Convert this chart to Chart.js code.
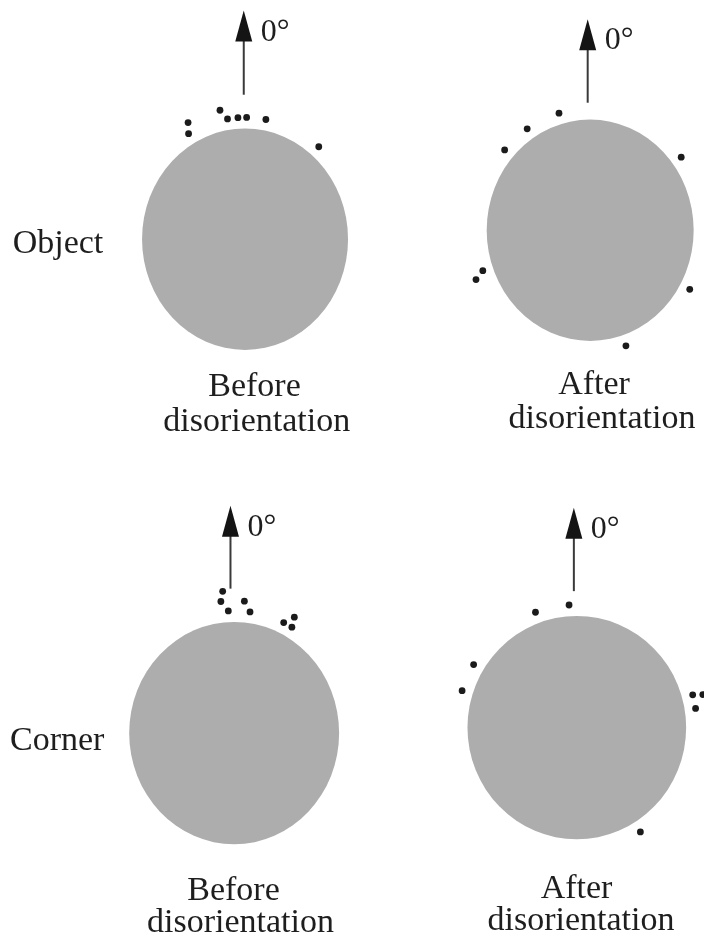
<!DOCTYPE html>
<html>
<head>
<meta charset="utf-8">
<script src="https://cdn.jsdelivr.net/npm/chart.js@4.4.1/dist/chart.umd.min.js"></script>
<style>
  html, body { margin: 0; padding: 0; background: #ffffff; }
  #wrap { position: relative; width: 704px; height: 940px; overflow: hidden; }
  #c { position: absolute; left: 0; top: 0; }
  .t { position: absolute; white-space: nowrap; color: #1e1e1e;
       font-family: "Liberation Serif", "Times New Roman", "DejaVu Serif", serif; }
</style>
</head>
<body>
<div id="wrap"><canvas id="c" width="704" height="940"></canvas></div>
<script>
// ---- data: heading angles (degrees, clockwise from 0° = up) ----
const objectBefore = [330.1, 332.3, 351.1, 348.2, 356.4, 0.8, 10.6, 40.6];
const objectAfter  = [344.1, 326.4, 311.3, 53.1, 250.6, 248.0, 119.0, 161.7];
const cornerBefore = [357.1, 353.9, 355.1, 7.9, 4.7, 25.4, 28.8, 30.0];
const cornerAfter  = [356.3, 339.9, 300.9, 287.5, 74.5, 75.6, 81.0, 148.1];
const rowLabels = ['Object', 'Corner'];
const beforeCaption = ['Before', 'disorientation'];
const afterCaption = ['After', 'disorientation'];
const directionLabel = '0\u00B0';

// ---- layout (page pixels for circle placement; arrow in circle units) ----
const W = 704, H = 940;
const panels = [
  { data: objectBefore, cx: 244,   cy: 237.5, rx: 104,   ry: 111.5,
    arrow: { x: -0.0125, top: 2.067, bottom: 1.305 },
    caption: beforeCaption, cap: [{ x: 254.5, b: 396.7 }, { x: 256.7, b: 431 }] },
  { data: objectAfter,  cx: 592.5, cy: 228.5, rx: 104.5, ry: 111.5,
    arrow: { x: -0.024, top: 1.906, bottom: 1.152 },
    caption: afterCaption, cap: [{ x: 594, b: 394 }, { x: 602, b: 428.3 }] },
  { data: cornerBefore, cx: 233,   cy: 735,   rx: 106,   ry: 112,
    arrow: { x: -0.035, top: 2.045, bottom: 1.299 },
    caption: beforeCaption, cap: [{ x: 233.5, b: 900 }, { x: 240.5, b: 932 }] },
  { data: cornerAfter,  cx: 579,   cy: 729.5, rx: 110.4, ry: 112.5,
    arrow: { x: -0.027, top: 1.969, bottom: 1.222 },
    caption: afterCaption, cap: [{ x: 576.5, b: 898 }, { x: 581, b: 930 }] }
];
const rowLabelPos = [{ x: 12.7, b: 253.3 }, { x: 10, b: 750.7 }];

const BASE_R = 1.1, STEP_R = 0.09, STACK_DEG = 4;

function angDiff(a, b) { let d = Math.abs(a - b) % 360; return d > 180 ? 360 - d : d; }
function stackLevels(angles) {
  const levels = [];
  return angles.map(a => {
    let L = 0;
    while (levels[L] && levels[L].some(b => angDiff(a, b) < STACK_DEG)) L++;
    (levels[L] = levels[L] || []).push(a);
    return L;
  });
}
function toPoints(angles) {
  const lv = stackLevels(angles);
  return angles.map((a, i) => {
    const r = BASE_R + STEP_R * lv[i];
    const t = a * Math.PI / 180;
    return { x: r * Math.sin(t), y: r * Math.cos(t) };
  });
}

const scales = {};
const datasets = panels.map((p, i) => {
  scales['x' + i] = { type: 'linear', axis: 'x', position: 'bottom', display: false,
    min: (0 - p.cx) / p.rx, max: (W - p.cx) / p.rx };
  scales['y' + i] = { type: 'linear', axis: 'y', position: 'left', display: false,
    min: (p.cy - H) / p.ry, max: p.cy / p.ry };
  return {
    label: 'panel' + i,
    data: toPoints(p.data),
    xAxisID: 'x' + i, yAxisID: 'y' + i,
    pointRadius: 3.4, pointHoverRadius: 3.4,
    backgroundColor: '#1b1b1b', borderWidth: 0,
    clip: false
  };
});

const discPlugin = {
  id: 'discs',
  beforeDatasetsDraw(chart) {
    const ctx = chart.ctx;
    panels.forEach((p, i) => {
      const xs = chart.scales['x' + i], ys = chart.scales['y' + i];
      const cx = xs.getPixelForValue(0), cy = ys.getPixelForValue(0);
      const rx = xs.getPixelForValue(1) - cx, ry = cy - ys.getPixelForValue(1);
      ctx.save();
      ctx.fillStyle = '#adadad';
      ctx.beginPath();
      ctx.ellipse(cx, cy, rx, ry, 0, 0, Math.PI * 2);
      ctx.fill();
      // arrow pointing to 0°
      const ax = xs.getPixelForValue(p.arrow.x);
      const at = ys.getPixelForValue(p.arrow.top);
      const ab = ys.getPixelForValue(p.arrow.bottom);
      ctx.strokeStyle = '#3a3a3a';
      ctx.lineWidth = 2;
      ctx.beginPath();
      ctx.moveTo(ax, at + 26);
      ctx.lineTo(ax, ab);
      ctx.stroke();
      ctx.fillStyle = '#141414';
      ctx.beginPath();
      ctx.moveTo(ax, at);
      ctx.lineTo(ax + 8.5, at + 31);
      ctx.lineTo(ax - 8.5, at + 31);
      ctx.closePath();
      ctx.fill();
      ctx.restore();
    });
  }
};

const chart = new Chart(document.getElementById('c'), {
  type: 'scatter',
  data: { datasets },
  options: {
    responsive: false,
    animation: false,
    layout: { padding: 0 },
    scales,
    plugins: { legend: { display: false }, tooltip: { enabled: false } },
    events: []
  },
  plugins: [discPlugin]
});

// ---- text (real DOM text) ----
const wrap = document.getElementById('wrap');
function addText(str, x, baseline, size, centered) {
  const d = document.createElement('div');
  d.className = 't';
  d.textContent = str;
  d.style.fontSize = size + 'px';
  d.style.lineHeight = size + 'px';
  d.style.top = (baseline - 0.8375 * size) + 'px';
  d.style.left = x + 'px';
  if (centered) d.style.transform = 'translateX(-50%)';
  wrap.appendChild(d);
}
rowLabels.forEach((s, i) => addText(s, rowLabelPos[i].x, rowLabelPos[i].b, 34, false));
panels.forEach((p, i) => {
  p.caption.forEach((s, j) => addText(s, p.cap[j].x, p.cap[j].b, 34, true));
  const xs = chart.scales['x' + i], ys = chart.scales['y' + i];
  const ax = xs.getPixelForValue(p.arrow.x), at = ys.getPixelForValue(p.arrow.top);
  addText(directionLabel, ax + 17, at + 30, 32, false);
});
</script>
</body>
</html>
